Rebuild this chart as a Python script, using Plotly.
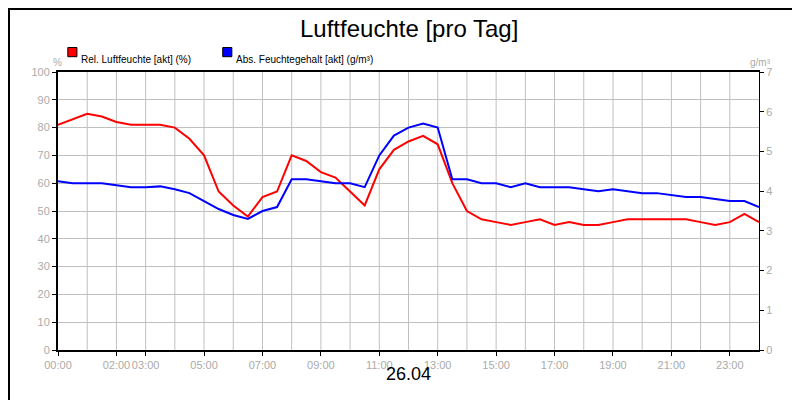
import plotly.graph_objects as go

hours = [i * 0.5 for i in range(49)]
rel = [81, 83, 85, 84, 82, 81, 81, 81, 80, 76, 70, 57, 52, 48, 55, 57, 70, 68, 64, 62,
       57, 52, 65, 72, 75, 77, 74, 60, 50, 47, 46, 45, 46, 47, 45, 46, 45, 45, 46, 47,
       47, 47, 47, 47, 46, 45, 46, 49, 46]
absf = [4.25, 4.2, 4.2, 4.2, 4.15, 4.1, 4.1, 4.12, 4.05, 3.95, 3.75, 3.55, 3.4, 3.3, 3.5, 3.6,
        4.3, 4.3, 4.25, 4.2, 4.2, 4.1, 4.9, 5.4, 5.6, 5.7, 5.6, 4.3, 4.3, 4.2, 4.2, 4.1,
        4.2, 4.1, 4.1, 4.1, 4.05, 4.0, 4.05, 4.0, 3.95, 3.95, 3.9, 3.85, 3.85, 3.8, 3.75, 3.75, 3.6]
tick_vals = [0, 2, 3, 5, 7, 9, 11, 13, 15, 17, 19, 21, 23]
tick_text = ["%02d:00" % h for h in tick_vals]
names = ["Rel. Luftfeuchte [akt] (%)", "Abs. Feuchtegehalt [akt] (g/m³)"]

fig = go.Figure()
fig.add_trace(go.Scatter(x=hours, y=rel, mode="lines", line=dict(color="#ff0000", width=2), name=names[0]))
fig.add_trace(go.Scatter(x=hours, y=absf, mode="lines", line=dict(color="#0000ff", width=2), name=names[1], yaxis="y2"))

gray = "#aaaaaa"
fig.update_layout(
    width=800, height=400, paper_bgcolor="white", plot_bgcolor="white", showlegend=False,
    margin=dict(l=50, r=49, t=64, b=58, autoexpand=False),
    font=dict(family="Liberation Sans, Arial", size=11, color=gray),
    xaxis=dict(range=[0, 24], tickvals=tick_vals, ticktext=tick_text, showgrid=False, tickangle=0, automargin=False,
               showline=True, linecolor="black", linewidth=2, mirror=True, ticks="outside", ticklen=4, tickcolor="black"),
    yaxis=dict(range=[0, 100], dtick=10, gridcolor="#c0c0c0", showline=True, linecolor="black", linewidth=2,
               automargin=False, ticks="outside", ticklen=4, tickcolor="black", zeroline=False),
    yaxis2=dict(range=[0, 7], dtick=1, overlaying="y", side="right", showgrid=False, showline=True, automargin=False,
                linecolor="black", linewidth=1, ticks="outside", ticklen=4, tickcolor="black", zeroline=False),
    shapes=[dict(type="rect", xref="paper", yref="paper", x0=-0.0699, x1=1.0685, y0=-0.2032, y1=1.2266,
                 line=dict(color="black", width=2))]
    + [dict(type="line", xref="x", yref="paper", x0=h, x1=h, y0=0, y1=1, line=dict(color="#c0c0c0", width=1), layer="below")
       for h in range(1, 24)]
    + [dict(type="rect", xref="paper", yref="paper", x0=x0, x1=x0 + 0.013, y0=1.055, y1=1.088,
            fillcolor=c, line=dict(color="black", width=1)) for x0, c in [(0.014, "#ff0000"), (0.235, "#0000ff")]],
    annotations=[
        dict(text="Luftfeuchte [pro Tag]", x=0.5, y=1.0, yshift=28, yanchor="bottom", xref="paper", yref="paper",
             showarrow=False, font=dict(size=24, color="black")),
        dict(text="26.04", x=0.5, y=-0.13, xref="paper", yref="paper", showarrow=False,
             font=dict(size=18, color="black")),
        dict(text="%", x=-0.01, y=1.06, xref="paper", yref="paper", showarrow=False, font=dict(size=10, color=gray)),
        dict(text="g/m³", x=1.02, y=1.06, xref="paper", yref="paper", showarrow=False, font=dict(size=10, color=gray)),
        dict(text=names[0], x=0.03, y=1.072, xref="paper", yref="paper", xanchor="left", showarrow=False,
             font=dict(size=10, color="black")),
        dict(text=names[1], x=0.251, y=1.072, xref="paper", yref="paper", xanchor="left", showarrow=False,
             font=dict(size=10, color="black")),
    ],
)
fig.write_html("out.html")
